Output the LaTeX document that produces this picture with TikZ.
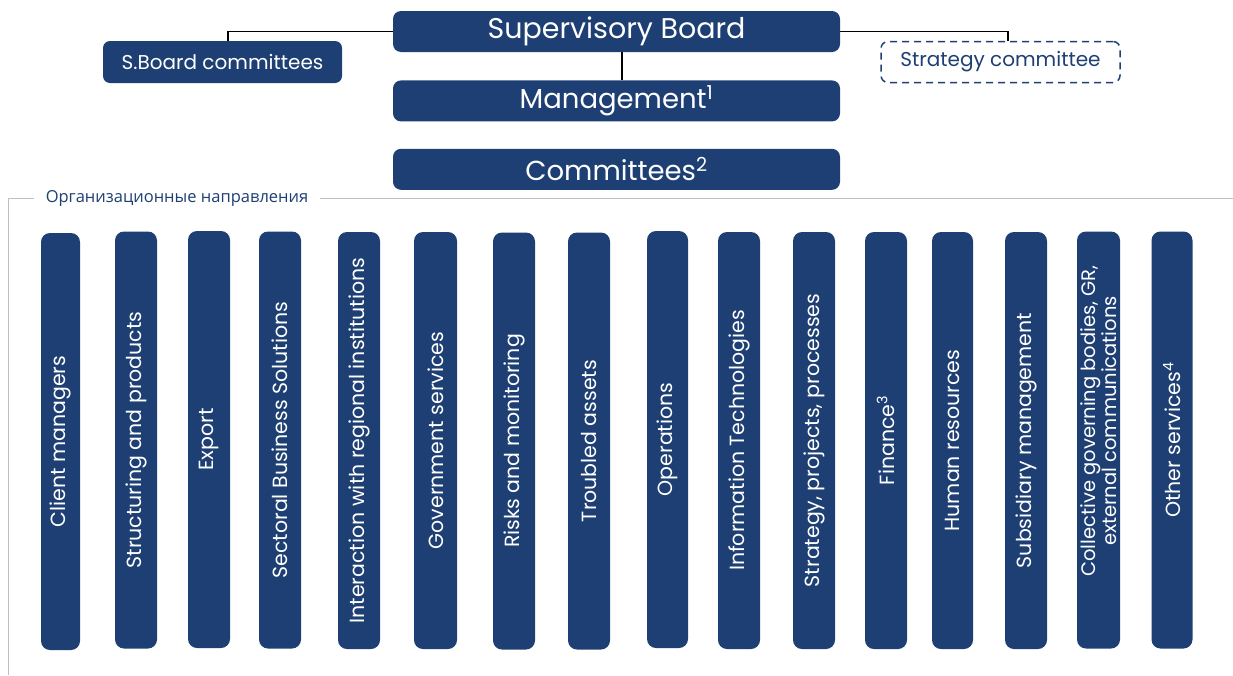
\documentclass[tikz,border=0pt]{standalone}
\usepackage{fontspec}
\setmainfont{Poppins}
\newfontfamily\rufont{Open Sans}
\usetikzlibrary{positioning}
\definecolor{boardblue}{RGB}{30,63,115}
\definecolor{framegrey}{RGB}{192,192,192}

\begin{document}
\begin{tikzpicture}[x=1pt,y=-1pt,
    topbox/.style={rectangle,rounded corners=8pt,fill=boardblue,text=white,inner sep=0pt,minimum width=447pt,minimum height=41pt,font=\fontsize{27.5}{30}\selectfont},
    sidebox/.style={rectangle,rounded corners=7pt,fill=boardblue,text=white,inner sep=0pt,minimum width=239pt,minimum height=42pt,font=\fontsize{20}{22}\selectfont},
    dashbox/.style={rectangle,rounded corners=7pt,draw=boardblue,line width=1.5pt,dash pattern=on 7pt off 5pt,text=boardblue,inner sep=0pt,minimum width=239pt,minimum height=41pt,font=\fontsize{20}{22}\selectfont},
    bar/.style={rectangle,rounded corners=9pt,fill=boardblue,text=white,rotate=90,inner sep=0pt,minimum width=417pt,minimum height=42pt,font=\fontsize{20.5}{21}\selectfont},
    link/.style={draw=black,line width=1.3pt}]
        \useasboundingbox (0,0) rectangle (1233,675);

        % top of the structure
        \node[topbox,font=\fontsize{28.5}{30}\selectfont] (board) at (616.5,31.5) {Supervisory Board};
        \node[topbox] (mgmt) [below=28pt of board] {Management\textsuperscript{1}};
        \node[topbox] (comm) [below=27pt of mgmt] {Committees\textsuperscript{2}};
        \node[sidebox] (sbc) at (222.5,62) {S.Board committees};
        \node[dashbox] (strat) at (1000.5,62) {Strategy committee};

        \draw[link] (board.west) -| ([xshift=5.5pt]sbc.north);
        \draw[link] (board.east) -| ([xshift=7.5pt]strat.north);
        \draw[link] ([xshift=5.5pt]board.south) -- ([xshift=5.5pt]mgmt.north);

        % frame of the directions
        \draw[framegrey,line width=1pt] (1233,198) -| (8,675);
        \node[fill=white,text=boardblue,inner xsep=12pt,font=\rufont\fontsize{16.5}{18}\selectfont] (dirs) at (177,198) {Организационные направления};

        % directions
        \node[bar,minimum height=39pt] (cm) at (60.5,441.5) {Client managers};
        \node[bar] (sp) at (136,440) {Structuring and products};
        \node[bar] (ex) at (209,439.5) {Export};
        \node[bar] (sbs) at (280,440) {Sectoral Business Solutions};
        \node[bar] (iri) at (359,440.5) {Interaction with regional institutions};
        \node[bar,minimum height=43pt] (gs) at (435.5,440.5) {Government services};
        \node[bar] (rm) at (514,441) {Risks and monitoring};
        \node[bar] (ta) at (589,441) {Troubled assets};
        \node[bar,minimum height=41pt] (ops) at (667.5,439.5) {Operations};
        \node[bar] (it) at (739,440.5) {Information Technologies};
        \node[bar] (spp) at (814,440.5) {Strategy, projects, processes};
        \node[bar] (fin) at (886,440.5) {Finance\textsuperscript{3}};
        \node[bar,minimum height=41pt] (hr) at (952.5,440.5) {Human resources};
        \node[bar] (sm) at (1026,440.5) {Subsidiary management};
        \node[bar,minimum height=43pt] (cgb) at (1098.5,440) {};
        \node[rotate=90,text=white,align=center,inner sep=0pt,font=\fontsize{19.5}{18}\selectfont] (cgbtext) at (1099,421) {Collective governing bodies, GR,\\external communications};
        \node[bar,minimum height=41pt] (os) at (1172,440) {Other services\textsuperscript{4}};
\end{tikzpicture}
\end{document}
